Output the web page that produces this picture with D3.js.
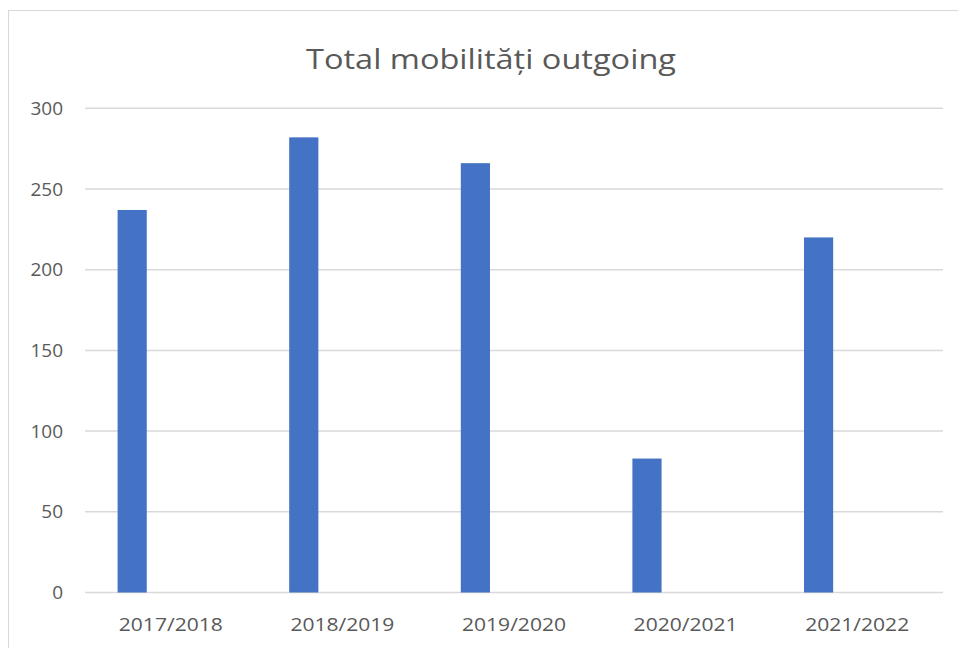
<!DOCTYPE html>
<html><head><meta charset="utf-8">
<script src="https://cdn.jsdelivr.net/npm/d3@7"></script>
<style>
html,body{margin:0;padding:0;background:#fff;}
svg{display:block;}
text{font-family:"Open Sans","Liberation Sans",sans-serif;fill:#595959;}
</style></head>
<body>
<svg id="c" width="958" height="648"></svg>
<script>
const categories = ["2017/2018","2018/2019","2019/2020","2020/2021","2021/2022"];
const values = [237, 282, 266, 83, 220];
const yTicks = [0, 50, 100, 150, 200, 250, 300];
const title = "Total mobilități outgoing";

const svg = d3.select("#c");
const W = 958, H = 648;
const m = {left: 85, right: 15, top: 108.3, bottom: 55.5};
const FONT = '"Open Sans","Liberation Sans",sans-serif';

// chart frame
svg.append("rect").attr("x", 8.5).attr("y", 10.5).attr("width", 960).attr("height", 650)
  .attr("fill", "#fff").attr("stroke", "#d9d9d9").attr("stroke-width", 1);

const x = d3.scaleBand().domain(categories).range([m.left, W - m.right]).paddingInner(0).paddingOuter(0);
const y = d3.scaleLinear().domain([0, 300]).range([H - m.bottom, m.top]);

// gridlines
svg.append("g").selectAll("line").data(yTicks).join("line")
  .attr("x1", m.left).attr("x2", W - m.right)
  .attr("y1", d => y(d)).attr("y2", d => y(d))
  .attr("stroke", "#d9d9d9").attr("stroke-width", 1.5);

// y axis labels
const yAxis = d3.axisLeft(y).tickValues(yTicks).tickSize(0).tickPadding(0);
const gy = svg.append("g").attr("transform", `translate(${m.left - 22},0)`).call(yAxis);
gy.select(".domain").remove();
gy.selectAll("text").attr("font-size", 19).attr("fill", "#595959").style("font-family", FONT);

// x axis labels
const xAxis = d3.axisBottom(x).tickSize(0).tickPadding(0);
const gx = svg.append("g").attr("transform", `translate(0,${y(0) + 25})`).call(xAxis);
gx.select(".domain").remove();
gx.selectAll("text").attr("font-size", 19).attr("fill", "#595959").style("font-family", FONT)
  .attr("textLength", 104).attr("lengthAdjust", "spacingAndGlyphs");

// bars (first of a two-series cluster; second series empty)
const bw = x.bandwidth();
svg.append("g").selectAll("rect").data(values).join("rect")
  .attr("x", (d, i) => x(categories[i]) + bw * 0.19)
  .attr("width", bw * 0.17)
  .attr("y", d => y(d))
  .attr("height", d => y(0) - y(d))
  .attr("fill", "#4472C4");

// title
svg.append("text").attr("x", 491).attr("y", 69).attr("text-anchor", "middle")
  .attr("font-size", 28).attr("textLength", 370).attr("lengthAdjust", "spacingAndGlyphs")
  .text(title);
</script>
</body></html>
